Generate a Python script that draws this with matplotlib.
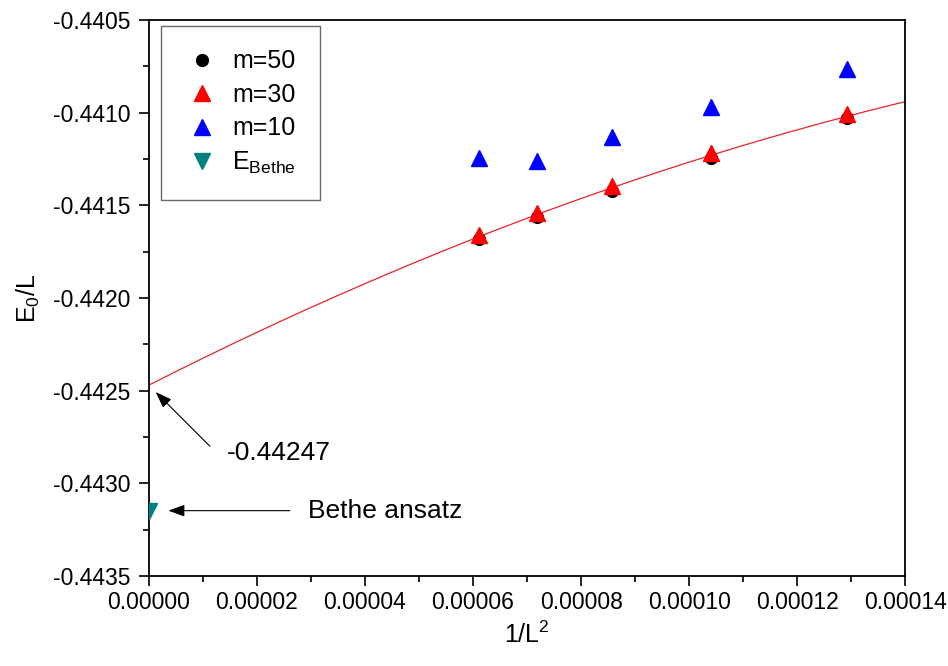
import numpy as np
import matplotlib
matplotlib.use("Agg")
import matplotlib.pyplot as plt
from matplotlib.ticker import MultipleLocator, FormatStrFormatter

plt.rcParams["font.family"] = ["Liberation Sans", "DejaVu Sans"]
plt.rcParams["mathtext.default"] = "regular"

# ------------------------------------------------------------
# Data
# ------------------------------------------------------------
inv_L2 = [1 / 128**2, 1 / 118**2, 1 / 108**2, 1 / 98**2, 1 / 88**2]

e_m50 = [-0.441680, -0.441562, -0.441420, -0.441243, -0.441027]
e_m30 = [-0.441660, -0.441541, -0.441396, -0.441218, -0.441007]
e_m10 = [-0.441245, -0.441261, -0.441131, -0.440969, -0.440764]

e_bethe = -0.443147

# quadratic fit drawn in the figure: a + b*x + c*x^2
fit_coef = [-0.44247, 14.80, -27676.0]
fit_xmax = 0.00014

# ------------------------------------------------------------
# Figure
# ------------------------------------------------------------
fig = plt.figure(figsize=(9.48, 6.66), dpi=100)
ax = fig.add_axes([0.157, 0.135, 0.798, 0.835])

xs = np.linspace(0, fit_xmax, 200)
ys = fit_coef[0] + fit_coef[1] * xs + fit_coef[2] * xs**2
ax.plot(xs, ys, color="#e8232b", lw=0.9, zorder=2)

ax.plot(inv_L2, e_m50, "o", color="black", ms=8.5, ls="none",
        label="m=50", zorder=3)
ax.plot(inv_L2, e_m30, "^", color="#ff0000", ms=11, ls="none",
        label="m=30", zorder=4)
ax.plot(inv_L2, e_m10, "^", color="#0000ff", ms=11, ls="none",
        label="m=10", zorder=4)
ax.plot([0.0], [e_bethe], "v", color="#008080", ms=11, ls="none",
        label=r"E$_{\mathregular{Bethe}}$", zorder=4)

# axes limits and ticks
ax.set_xlim(0, 0.00014)
ax.set_ylim(-0.4435, -0.4405)
ax.xaxis.set_major_locator(MultipleLocator(0.00002))
ax.xaxis.set_minor_locator(MultipleLocator(0.00001))
ax.yaxis.set_major_locator(MultipleLocator(0.0005))
ax.yaxis.set_minor_locator(MultipleLocator(0.00025))
ax.xaxis.set_major_formatter(FormatStrFormatter("%.5f"))
ax.yaxis.set_major_formatter(FormatStrFormatter("%.4f"))

ax.tick_params(which="major", direction="out", length=7, width=1.2,
               labelsize=16.5, top=False, right=False, pad=6)
ax.tick_params(axis="x", which="major", pad=4)
ax.tick_params(which="minor", direction="out", length=4, width=1.2,
               top=False, right=False)
for s in ax.spines.values():
    s.set_linewidth(1.3)

ax.set_xlabel(r"1/L$^2$", fontsize=18, labelpad=5)
ax.set_ylabel(r"E$_0$/L", fontsize=18, labelpad=8)

# annotations
arrow_kw = dict(arrowstyle="-|>,head_length=0.5,head_width=0.18",
                color="black", lw=0.8, mutation_scale=20, shrinkA=0)

ax.annotate("", xy=(0.0, fit_coef[0]), xytext=(61, -61),
            textcoords="offset pixels",
            arrowprops=dict(arrow_kw, shrinkB=7))
ax.annotate(f"{fit_coef[0]:.5f}", xy=(0.0, fit_coef[0]), xytext=(78, -68),
            textcoords="offset pixels", fontsize=19, va="center", ha="left")

ax.annotate("", xy=(0.0, e_bethe), xytext=(141, 0),
            textcoords="offset pixels",
            arrowprops=dict(arrow_kw, shrinkB=14))
ax.annotate("Bethe ansatz", xy=(0.0, e_bethe), xytext=(159, 0),
            textcoords="offset pixels", fontsize=19, va="center", ha="left")

leg = ax.legend(loc="upper left", bbox_to_anchor=(0.016, 0.99),
                fontsize=18, frameon=True, fancybox=False, edgecolor="#444444",
                handletextpad=0.5, labelspacing=0.38, borderpad=0.95,
                handlelength=1.4, borderaxespad=0)
leg.get_frame().set_linewidth(1.0)

fig.savefig("out.png", dpi=100)
